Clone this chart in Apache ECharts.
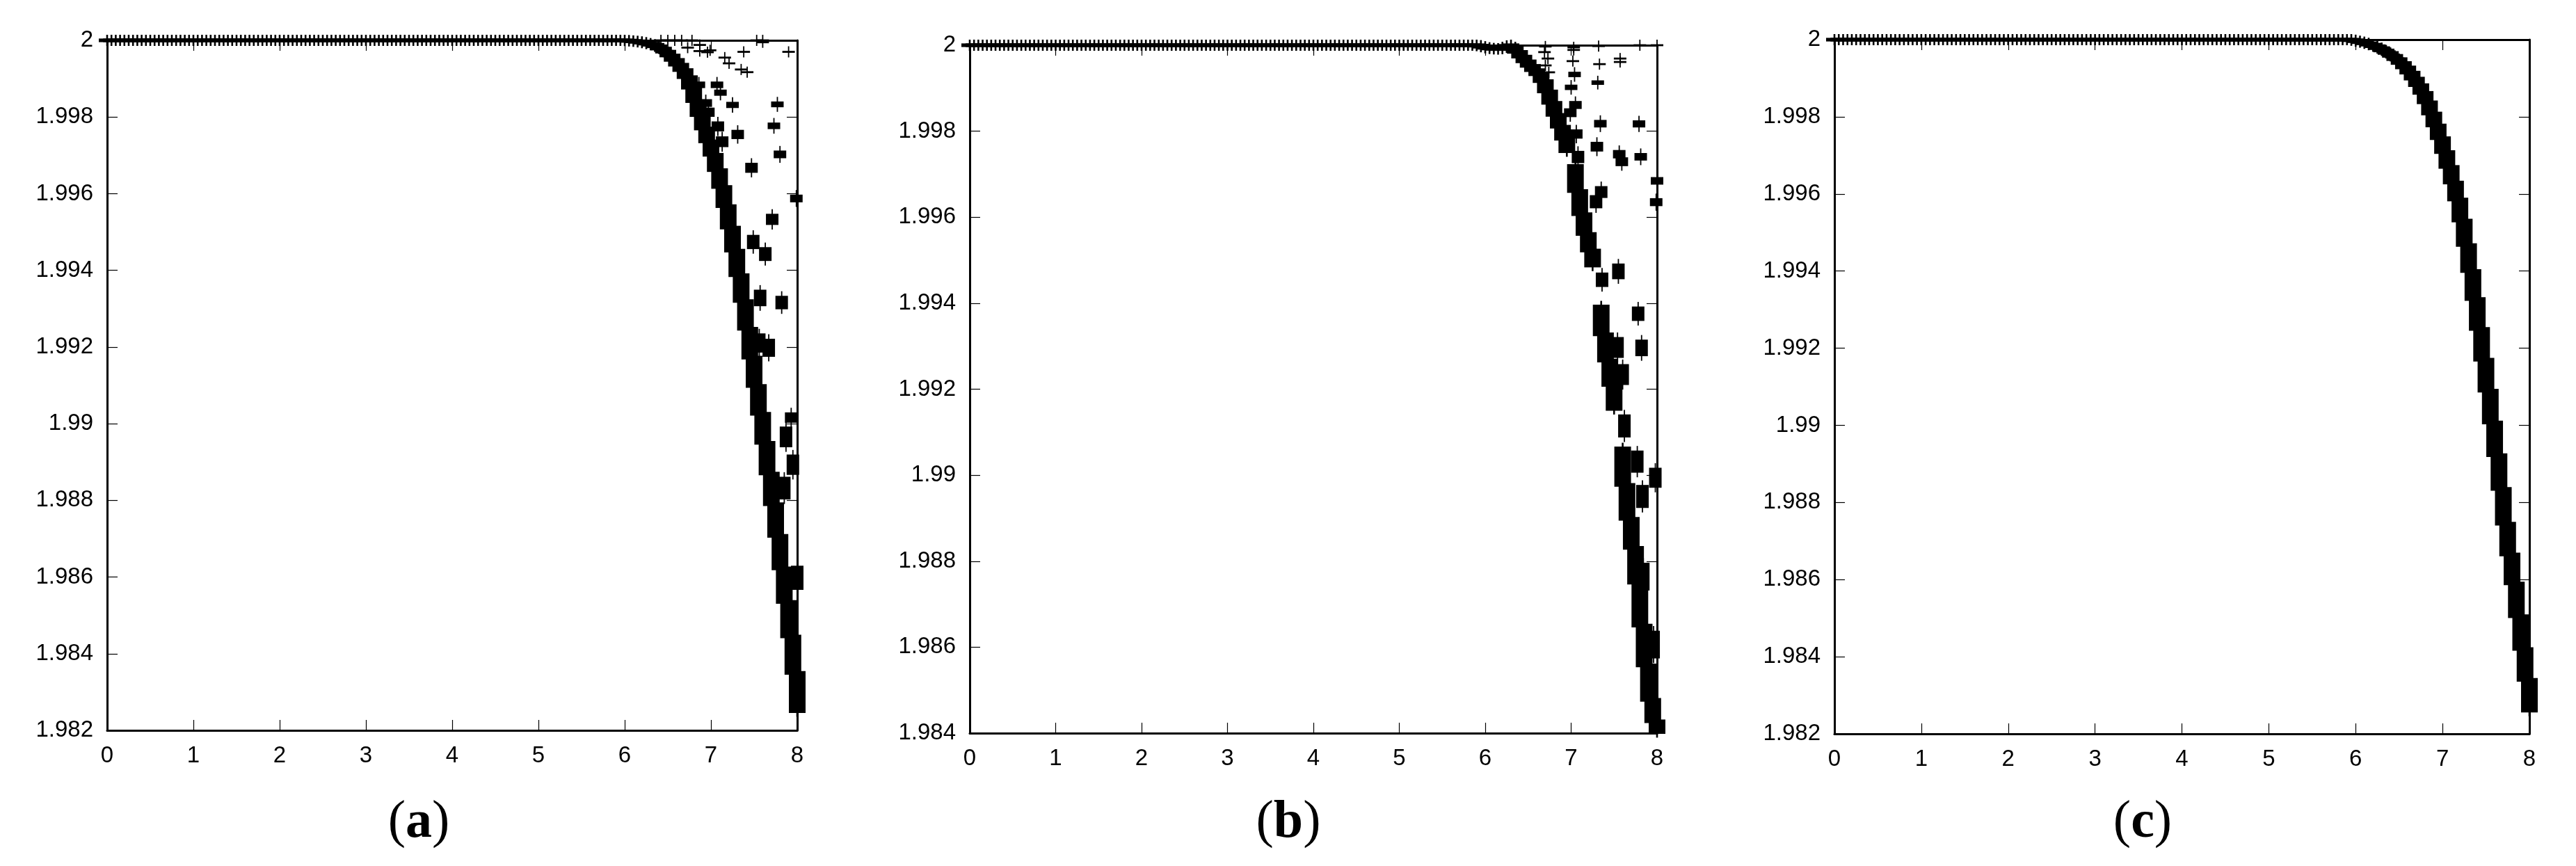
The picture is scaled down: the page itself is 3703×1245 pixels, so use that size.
<!DOCTYPE html>
<html>
<head>
<meta charset="utf-8">
<script src="https://cdn.jsdelivr.net/npm/echarts@6/dist/echarts.min.js"></script>
<style>
  html, body { margin: 0; padding: 0; background: #fff; }
  #chart { width: 3703px; height: 1245px; }
</style>
</head>
<body>
<div id="chart"></div>
<script>
// sample positions shared by the three panels
const xs = [
  0, 0.05, 0.1, 0.15, 0.2, 0.25, 0.3, 0.35, 0.4, 0.45, 0.5, 0.55, 0.6, 0.65, 0.7, 0.75, 0.8, 0.85, 0.9, 0.95,
  1, 1.05, 1.1, 1.15, 1.2, 1.25, 1.3, 1.35, 1.4, 1.45, 1.5, 1.55, 1.6, 1.65, 1.7, 1.75, 1.8, 1.85, 1.9, 1.95,
  2, 2.05, 2.1, 2.15, 2.2, 2.25, 2.3, 2.35, 2.4, 2.45, 2.5, 2.55, 2.6, 2.65, 2.7, 2.75, 2.8, 2.85, 2.9, 2.95,
  3, 3.05, 3.1, 3.15, 3.2, 3.25, 3.3, 3.35, 3.4, 3.45, 3.5, 3.55, 3.6, 3.65, 3.7, 3.75, 3.8, 3.85, 3.9, 3.95,
  4, 4.05, 4.1, 4.15, 4.2, 4.25, 4.3, 4.35, 4.4, 4.45, 4.5, 4.55, 4.6, 4.65, 4.7, 4.75, 4.8, 4.85, 4.9, 4.95,
  5, 5.05, 5.1, 5.15, 5.2, 5.25, 5.3, 5.35, 5.4, 5.45, 5.5, 5.55, 5.6, 5.65, 5.7, 5.75, 5.8, 5.85, 5.9, 5.95,
  6, 6.05, 6.1, 6.15, 6.2, 6.25, 6.3, 6.35, 6.4, 6.45, 6.5, 6.55, 6.6, 6.65, 6.7, 6.75, 6.8, 6.85, 6.9, 6.95,
  7, 7.05, 7.1, 7.15, 7.2, 7.25, 7.3, 7.35, 7.4, 7.45, 7.5, 7.55, 7.6, 7.65, 7.7, 7.75, 7.8, 7.85, 7.9, 7.95,
  8
];

const xTicks = [0, 1, 2, 3, 4, 5, 6, 7, 8];

// (a) main branch
const mainA = [
  2, 2, 2, 2, 2, 2, 2, 2, 2, 2, 2, 2, 2, 2, 2, 2, 2, 2, 2, 2,
  2, 2, 2, 2, 2, 2, 2, 2, 2, 2, 2, 2, 2, 2, 2, 2, 2, 2, 2, 2,
  2, 2, 2, 2, 2, 2, 2, 2, 2, 2, 2, 2, 2, 2, 2, 2, 2, 2, 2, 2,
  2, 2, 2, 2, 2, 2, 2, 2, 2, 2, 2, 2, 2, 2, 2, 2, 2, 2, 2, 2,
  2, 2, 2, 2, 2, 2, 2, 2, 2, 2, 2, 2, 2, 2, 2, 2, 2, 2, 2, 2,
  2, 2, 2, 2, 2, 2, 2, 2, 2, 2, 2, 2, 2, 2, 2, 2, 2, 2, 2, 2,
  2, 1.99999, 1.99998, 1.99997, 1.99995, 1.99993, 1.9999, 1.99987, 1.99982, 1.99975,
  1.99966, 1.99955, 1.99943, 1.9993, 1.99915, 1.99893, 1.9986, 1.99823, 1.99787, 1.99753,
  1.9972, 1.99683, 1.9964, 1.99595, 1.9954, 1.99483, 1.9942, 1.99355, 1.99285, 1.9921,
  1.99135, 1.99062, 1.9899, 1.9891, 1.9883, 1.9875, 1.98665, 1.9858, 1.9849, 1.984,
  1.983
];
// (a) scattered points: [x, upper y, lower y]
const sideA = [
  [6.42, 2, 2], [6.5, 2, 2], [6.58, 2, 2], [6.66, 2, 2], [6.73, 1.99981, 1.99981],
  [6.78, 2, 2], [6.87, 1.99988, 1.99988], [6.87, 1.99972, 1.99972], [6.96, 1.99969, 1.99969],
  [6.99, 1.99974, 1.99974], [7.16, 1.99955, 1.99955], [7.21, 1.9994, 1.9994],
  [7.35, 1.99924, 1.99924], [7.42, 1.99917, 1.99917], [7.38, 1.9997, 1.9997],
  [7.53, 2, 2], [7.6, 2, 1.99995], [7.9, 1.9997, 1.9997],
  [6.86, 1.9989, 1.99878], [7.07, 1.9989, 1.99878], [7.11, 1.99869, 1.99858],
  [7.25, 1.99837, 1.99826], [7.77, 1.99838, 1.99828], [6.94, 1.99844, 1.99829],
  [6.97, 1.99822, 1.99803], [7.08, 1.99786, 1.99765], [7.13, 1.99747, 1.99724],
  [7.31, 1.99764, 1.99745], [7.73, 1.99783, 1.99771], [7.8, 1.9971, 1.99695],
  [7.47, 1.99678, 1.99657], [7.99, 1.99595, 1.9958], [7.71, 1.99545, 1.99521],
  [7.49, 1.9949, 1.99458], [7.63, 1.99458, 1.99427], [7.57, 1.99347, 1.99309],
  [7.82, 1.99331, 1.99301], [7.67, 1.99219, 1.99177], [7.56, 1.99233, 1.99188],
  [7.93, 1.99027, 1.99005], [7.87, 1.9899, 1.98941], [7.95, 1.98917, 1.98869],
  [7.85, 1.98859, 1.98805], [8, 1.98627, 1.98569]
];

// (b) main branch, null where the branch jumps
const mainB = [
  2, 2, 2, 2, 2, 2, 2, 2, 2, 2, 2, 2, 2, 2, 2, 2, 2, 2, 2, 2,
  2, 2, 2, 2, 2, 2, 2, 2, 2, 2, 2, 2, 2, 2, 2, 2, 2, 2, 2, 2,
  2, 2, 2, 2, 2, 2, 2, 2, 2, 2, 2, 2, 2, 2, 2, 2, 2, 2, 2, 2,
  2, 2, 2, 2, 2, 2, 2, 2, 2, 2, 2, 2, 2, 2, 2, 2, 2, 2, 2, 2,
  2, 2, 2, 2, 2, 2, 2, 2, 2, 2, 2, 2, 2, 2, 2, 2, 2, 2, 2, 2,
  2, 2, 2, 2, 2, 2, 2, 2, 2, 2, 2, 2, 2, 2, 2, 2, 2, 2, 2, 1.99998,
  1.99995, 1.99993, 1.99992, 1.99991, 1.99993, 1.99997, 2, 1.9999, 1.99979, 1.99968,
  1.99957, 1.99947, 1.99937, 1.99928, 1.99905, 1.9988, 1.99852, 1.99824, 1.99797, 1.99768,
  null, 1.9969, 1.99632, 1.99582, 1.9954, 1.99505, null, 1.9936, 1.99295, 1.99238,
  1.99182, null, 1.9902, 1.98935, 1.98862, 1.988, 1.987, 1.986, 1.98515, 1.9844,
  1.98415
];
const sideB = [
  [6.7, 1.99997, 1.99997], [6.69, 1.99984, 1.99984], [6.73, 1.99969, 1.99969],
  [6.7, 1.99953, 1.99953], [6.74, 1.99937, 1.99937],
  [7.03, 1.99995, 1.99995], [7.03, 1.99989, 1.99989], [7.02, 1.99963, 1.99963],
  [7.04, 1.99936, 1.99928], [7, 1.99906, 1.99898], [7.05, 1.99868, 1.99854],
  [6.99, 1.99851, 1.99835], [7.06, 1.99802, 1.99785], [7.08, 1.99752, 1.99728],
  [7.32, 1.99998, 1.99998], [7.33, 1.99956, 1.99956], [7.31, 1.99916, 1.9991],
  [7.34, 1.99824, 1.99811], [7.3, 1.99773, 1.99755], [7.35, 1.9967, 1.99647],
  [7.29, 1.99649, 1.99623], [7.57, 1.99969, 1.99969], [7.57, 1.99961, 1.99961],
  [7.56, 1.99754, 1.99739], [7.59, 1.99737, 1.99721], [7.8, 2, 2], [8, 2, 2],
  [7.79, 1.99823, 1.99811], [7.81, 1.99747, 1.99734], [8, 1.99691, 1.99678],
  [7.99, 1.99642, 1.99628], [7.55, 1.9949, 1.99458], [7.36, 1.99469, 1.9944],
  [7.54, 1.99319, 1.99275], [7.6, 1.99256, 1.99212], [7.78, 1.9939, 1.99361],
  [7.82, 1.99313, 1.99279], [7.62, 1.99139, 1.9909], [7.77, 1.99055, 1.99008],
  [7.83, 1.98975, 1.98926], [7.98, 1.99015, 1.98973], [7.84, 1.98794, 1.98734],
  [7.96, 1.98636, 1.98576]
];

// (c) single smooth branch
const mainC = [
  2, 2, 2, 2, 2, 2, 2, 2, 2, 2, 2, 2, 2, 2, 2, 2, 2, 2, 2, 2,
  2, 2, 2, 2, 2, 2, 2, 2, 2, 2, 2, 2, 2, 2, 2, 2, 2, 2, 2, 2,
  2, 2, 2, 2, 2, 2, 2, 2, 2, 2, 2, 2, 2, 2, 2, 2, 2, 2, 2, 2,
  2, 2, 2, 2, 2, 2, 2, 2, 2, 2, 2, 2, 2, 2, 2, 2, 2, 2, 2, 2,
  2, 2, 2, 2, 2, 2, 2, 2, 2, 2, 2, 2, 2, 2, 2, 2, 2, 2, 2, 2,
  2, 2, 2, 2, 2, 2, 2, 2, 2, 2, 2, 2, 2, 2, 2, 2, 2, 2, 2, 2,
  1.99997, 1.99995, 1.99992, 1.99989, 1.99985, 1.99981, 1.99975, 1.99969, 1.99962, 1.99954,
  1.99945, 1.99934, 1.99922, 1.99907, 1.99891, 1.99873, 1.99851, 1.99824, 1.99793, 1.99762,
  1.99727, 1.9969, 1.9965, 1.99609, 1.99562, 1.995, 1.99435, 1.99365, 1.9929, 1.9921,
  1.9913, 1.9905, 1.98965, 1.9888, 1.9879, 1.987, 1.9863, 1.9855, 1.9846, 1.9838,
  1.983
];

const panels = [
  { main: mainA, side: sideA, yMin: 1.982, caption: 'a',
    left: 154, top: 58, width: 992, height: 992, capX: 602 },
  { main: mainB, side: sideB, yMin: 1.984, caption: 'b',
    left: 1394, top: 65, width: 988, height: 989, capX: 1852 },
  { main: mainC, side: [], yMin: 1.982, caption: 'c',
    left: 2637, top: 57, width: 999, height: 998, capX: 3080 }
];

// each main point gets a vertical extent reaching halfway to its neighbours
function bandPoints(ys) {
  const pts = [];
  ys.forEach(function (y, i) {
    if (y == null) return;
    const prev = i > 0 ? ys[i - 1] : null;
    const next = i < ys.length - 1 ? ys[i + 1] : null;
    const mids = [];
    if (prev != null) mids.push((prev + y) / 2);
    if (next != null) mids.push((next + y) / 2);
    if (mids.length === 1) mids.push(2 * y - mids[0]);
    pts.push([xs[i], Math.max(y, ...mids), Math.min(y, ...mids)]);
  });
  return pts;
}

// gnuplot style "+" marks, stacked between the upper and lower value
function plusMark(halfW, bar, stem) {
  return function (params, api) {
    const x = api.value(0);
    const top = api.coord([x, api.value(1)]);
    const bot = api.coord([x, api.value(2)]);
    const arm = 8;
    return {
      type: 'group',
      children: [
        { type: 'rect', shape: { x: top[0] - halfW, y: top[1] - bar, width: halfW * 2, height: bot[1] - top[1] + bar * 2 },
          style: { fill: '#000' } },
        { type: 'rect', shape: { x: top[0] - stem / 2, y: top[1] - arm, width: stem, height: bot[1] - top[1] + arm * 2 },
          style: { fill: '#000' } }
      ]
    };
  };
}

const labelFont = 'Liberation Sans';
const axisLine = { show: true, onZero: false, lineStyle: { color: '#000', width: 3 } };
const axisTick = { show: true, inside: true, length: 15, lineStyle: { color: '#000', width: 1.2 } };

const grid = [], xAxis = [], yAxis = [], series = [], graphic = [];

panels.forEach(function (p, g) {
  grid.push({ left: p.left, top: p.top, width: p.width, height: p.height, show: false });
  ['bottom', 'top'].forEach(function (pos) {
    xAxis.push({
      type: 'value', gridIndex: g, position: pos, min: xTicks[0], max: xTicks[xTicks.length - 1], interval: 1,
      axisLine: axisLine, axisTick: axisTick, splitLine: { show: false },
      axisLabel: { show: pos === 'bottom', color: '#000', fontSize: 33, fontFamily: labelFont, margin: 20 }
    });
  });
  ['left', 'right'].forEach(function (pos) {
    yAxis.push({
      type: 'value', gridIndex: g, position: pos, min: p.yMin, max: 2, interval: 0.002,
      axisLine: axisLine, axisTick: axisTick, splitLine: { show: false },
      axisLabel: {
        show: pos === 'left', color: '#000', fontSize: 33, fontFamily: labelFont, margin: 20,
        formatter: function (v) { return String(parseFloat(v.toFixed(3))); }
      }
    });
  });
  series.push({
    type: 'custom', xAxisIndex: g * 2, yAxisIndex: g * 2, data: bandPoints(p.main),
    encode: { x: 0, y: [1, 2] }, renderItem: plusMark(12, 2.6, 2.6), silent: true
  });
  series.push({
    type: 'custom', xAxisIndex: g * 2, yAxisIndex: g * 2, data: p.side,
    encode: { x: 0, y: [1, 2] }, renderItem: plusMark(9, 1.4, 1.8), silent: true
  });
  graphic.push({
    type: 'text', x: p.capX, y: 1183,
    style: {
      text: '{p|(}{b|' + p.caption + '}{p|)}', align: 'center', verticalAlign: 'middle', fill: '#000',
      rich: {
        p: { fontSize: 76, fontFamily: 'Liberation Serif', fill: '#000' },
        b: { fontSize: 76, fontFamily: 'Liberation Serif', fontWeight: 'bold', fill: '#000' }
      }
    }
  });
});

const chart = echarts.init(document.getElementById('chart'));
chart.setOption({
  animation: false,
  backgroundColor: '#fff',
  grid: grid,
  xAxis: xAxis,
  yAxis: yAxis,
  series: series,
  graphic: graphic
});
</script>
</body>
</html>
